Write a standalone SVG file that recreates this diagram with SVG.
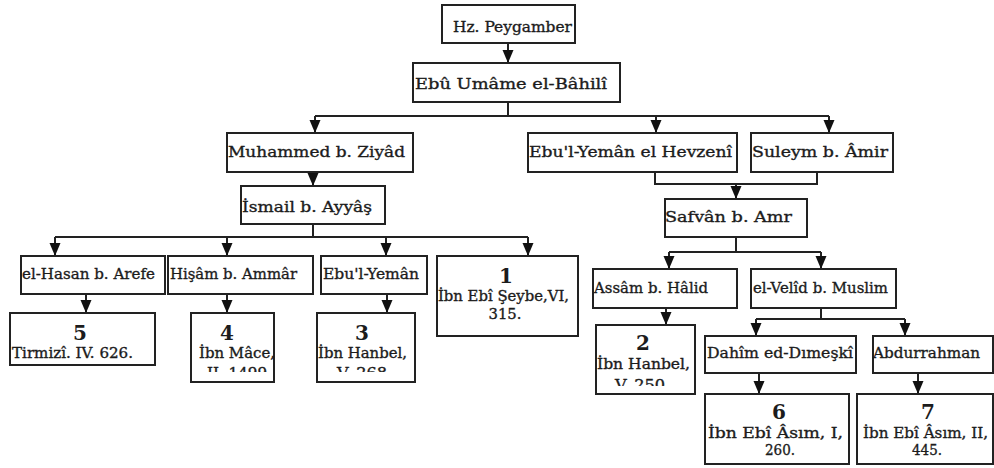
<svg xmlns="http://www.w3.org/2000/svg" width="994" height="468" viewBox="0 0 994 468">
<style>
.box{fill:#fff;stroke:#222;stroke-width:2}
.t{font-family:"DejaVu Serif","Liberation Serif",serif;font-size:15px;fill:#1c1c1c;stroke:#1c1c1c;stroke-width:0.35}
.n{font-family:"DejaVu Serif","Liberation Serif",serif;font-size:20px;font-weight:bold;fill:#1c1c1c;text-anchor:middle}
.c{text-anchor:middle}
.ln{fill:none;stroke:#222;stroke-width:2}
.ar{fill:none;stroke:#222;stroke-width:2;marker-end:url(#arr)}
</style>
<defs>
<marker id="arr" markerUnits="userSpaceOnUse" markerWidth="13" markerHeight="12" refX="13" refY="6" orient="auto">
<path d="M0,0.5 L13,6 L0,11.5 z" fill="#111"/>
</marker>
<clipPath id="c4"><rect x="192" y="314" width="82" height="58"/></clipPath>
<clipPath id="c3"><rect x="318" y="314" width="96" height="58"/></clipPath>
<clipPath id="c2"><rect x="597" y="326" width="97" height="60"/></clipPath>
<clipPath id="c5"><rect x="11" y="314" width="143" height="50"/></clipPath>
</defs>
<rect width="994" height="468" fill="#fff"/>

<g id="connectors">
<path class="ar" d="M508,43 V63"/>
<path class="ln" d="M508,102 V116 M315,116 H829"/>
<path class="ar" d="M315,116 V133"/>
<path class="ar" d="M656,116 V133"/>
<path class="ar" d="M829,116 V133"/>
<path class="ar" d="M313,172 V186"/>
<path class="ln" d="M313,224 V237 M55,237 H528"/>
<path class="ar" d="M55,237 V256"/>
<path class="ar" d="M227,237 V256"/>
<path class="ar" d="M386,237 V256"/>
<path class="ar" d="M528,237 V256"/>
<path class="ln" d="M655,172 V184 H817 V172"/>
<path class="ar" d="M736,184 V199"/>
<path class="ln" d="M736,237 V252 M669,252 H821"/>
<path class="ar" d="M669,252 V269"/>
<path class="ar" d="M821,252 V269"/>
<path class="ar" d="M86,294 V313"/>
<path class="ar" d="M227,294 V313"/>
<path class="ar" d="M387,294 V313"/>
<path class="ar" d="M666,308 V325"/>
<path class="ln" d="M821,308 V319 M756,319 H905"/>
<path class="ar" d="M756,319 V336"/>
<path class="ar" d="M905,319 V336"/>
<path class="ar" d="M759,373 V394"/>
<path class="ar" d="M918,373 V394"/>
</g>

<g id="hz"><rect class="box" x="442" y="5" width="133" height="38"/><text class="t" x="453" y="32" textLength="119" lengthAdjust="spacingAndGlyphs">Hz. Peygamber</text></g>
<g id="ebu-umame"><rect class="box" x="413" y="63" width="207" height="39"/><text class="t" x="415" y="89" textLength="192" lengthAdjust="spacingAndGlyphs">Ebû Umâme el-Bâhilî</text></g>
<g id="muhammed"><rect class="box" x="227" y="133" width="186" height="39"/><text class="t" x="228" y="157" textLength="177" lengthAdjust="spacingAndGlyphs">Muhammed b. Ziyâd</text></g>
<g id="ebul-yeman-hevzeni"><rect class="box" x="528" y="133" width="209" height="39"/><text class="t" x="529" y="157" textLength="203" lengthAdjust="spacingAndGlyphs">Ebu'l-Yemân el Hevzenî</text></g>
<g id="suleym"><rect class="box" x="751" y="133" width="142" height="39"/><text class="t" x="752" y="157" textLength="136" lengthAdjust="spacingAndGlyphs">Suleym b. Âmir</text></g>
<g id="ismail"><rect class="box" x="241" y="186" width="144" height="38"/><text class="t" x="242" y="212" textLength="130" lengthAdjust="spacingAndGlyphs">İsmail b. Ayyâş</text></g>
<g id="safvan"><rect class="box" x="665" y="199" width="142" height="38"/><text class="t" x="665" y="222" textLength="127" lengthAdjust="spacingAndGlyphs">Safvân b. Amr</text></g>

<g id="el-hasan"><rect class="box" x="21" y="256" width="144" height="38"/><text class="t" x="22" y="279" textLength="133" lengthAdjust="spacingAndGlyphs">el-Hasan b. Arefe</text></g>
<g id="hisam"><rect class="box" x="168" y="256" width="145" height="38"/><text class="t" x="170" y="279" textLength="127" lengthAdjust="spacingAndGlyphs">Hişâm b. Ammâr</text></g>
<g id="ebul-yeman"><rect class="box" x="321" y="256" width="106" height="38"/><text class="t" x="323" y="279" textLength="96" lengthAdjust="spacingAndGlyphs">Ebu'l-Yemân</text></g>
<g id="r1"><rect class="box" x="437" y="256" width="141" height="80"/><text class="n" x="506" y="283">1</text><text class="t" x="438" y="301" textLength="131" lengthAdjust="spacingAndGlyphs">İbn Ebî Şeybe,VI,</text><text class="t c" x="505" y="319" textLength="33" lengthAdjust="spacingAndGlyphs">315.</text></g>

<g id="assam"><rect class="box" x="593" y="269" width="144" height="39"/><text class="t" x="594" y="293" textLength="114" lengthAdjust="spacingAndGlyphs">Assâm b. Hâlid</text></g>
<g id="el-velid"><rect class="box" x="751" y="269" width="145" height="39"/><text class="t" x="753" y="293" textLength="135" lengthAdjust="spacingAndGlyphs">el-Velîd b. Muslim</text></g>

<g id="r5"><rect class="box" x="10" y="313" width="145" height="52"/><g clip-path="url(#c5)"><text class="n" x="80" y="340">5</text><text class="t" x="12" y="358" textLength="121" lengthAdjust="spacingAndGlyphs">Tirmizî. IV. 626.</text></g></g>
<g id="r4"><rect class="box" x="191" y="313" width="83" height="69"/><g clip-path="url(#c4)"><text class="n" x="227" y="340">4</text><text class="t" x="199" y="358" textLength="76" lengthAdjust="spacingAndGlyphs">İbn Mâce,</text><text class="t c" x="237" y="378" textLength="60" lengthAdjust="spacingAndGlyphs">II, 1499</text></g></g>
<g id="r3"><rect class="box" x="317" y="313" width="98" height="69"/><g clip-path="url(#c3)"><text class="n" x="362" y="340">3</text><text class="t" x="318" y="358" textLength="89" lengthAdjust="spacingAndGlyphs">İbn Hanbel,</text><text class="t c" x="362" y="378" textLength="50" lengthAdjust="spacingAndGlyphs">V, 268</text></g></g>
<g id="r2"><rect class="box" x="596" y="325" width="99" height="69"/><g clip-path="url(#c2)"><text class="n" x="643" y="350">2</text><text class="t" x="597" y="369" textLength="93" lengthAdjust="spacingAndGlyphs">İbn Hanbel,</text><text class="t c" x="640" y="390" textLength="50" lengthAdjust="spacingAndGlyphs">V, 250</text></g></g>

<g id="dahim"><rect class="box" x="705" y="336" width="151" height="37"/><text class="t" x="707" y="358" textLength="146" lengthAdjust="spacingAndGlyphs">Dahîm ed-Dımeşkî</text></g>
<g id="abdurrahman"><rect class="box" x="873" y="336" width="120" height="37"/><text class="t" x="873" y="358" textLength="107" lengthAdjust="spacingAndGlyphs">Abdurrahman</text></g>

<g id="r6"><rect class="box" x="705" y="394" width="144" height="70"/><text class="n" x="779" y="419">6</text><text class="t" x="708" y="438" textLength="135" lengthAdjust="spacingAndGlyphs">İbn Ebî Âsım, I,</text><text class="t c" x="780" y="455" textLength="30" lengthAdjust="spacingAndGlyphs">260.</text></g>
<g id="r7"><rect class="box" x="857" y="394" width="136" height="70"/><text class="n" x="928" y="419">7</text><text class="t" x="863" y="438" textLength="125" lengthAdjust="spacingAndGlyphs">İbn Ebî Âsım, II,</text><text class="t c" x="927" y="455" textLength="30" lengthAdjust="spacingAndGlyphs">445.</text></g>
</svg>
